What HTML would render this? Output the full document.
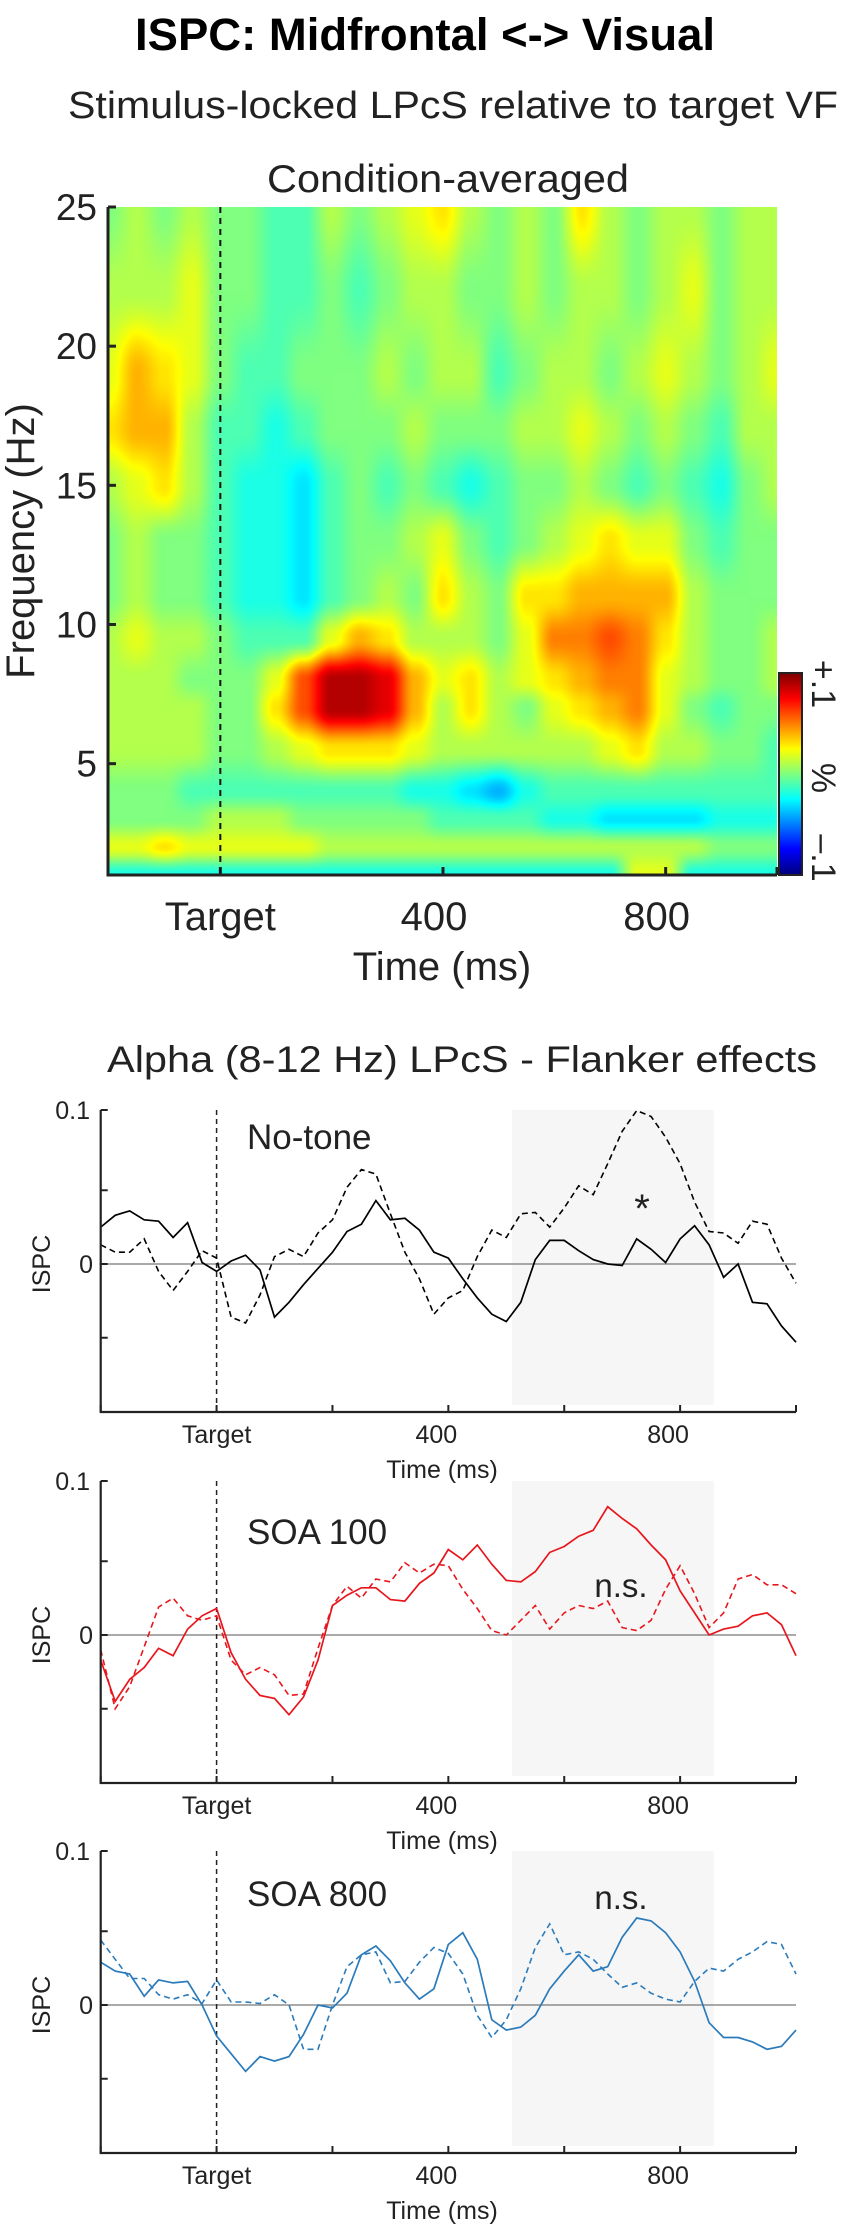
<!DOCTYPE html>
<html><head><meta charset="utf-8">
<style>
html,body{margin:0;padding:0;background:#fff;}
#wrap{position:relative;width:851px;height:2232px;overflow:hidden;background:#fff;}
#heat{position:absolute;left:109px;top:207px;}
#cbar{position:absolute;left:779px;top:673px;}
svg{position:absolute;left:0;top:0;}
text{font-family:"Liberation Sans",sans-serif;fill:#222;}
</style></head>
<body>
<div id="wrap">
<canvas id="heat" width="668" height="668"></canvas>
<canvas id="cbar" width="23" height="202"></canvas>
<svg id="svg" width="851" height="2232" xmlns="http://www.w3.org/2000/svg">
<text x="425" y="50" text-anchor="middle" font-size="45" font-weight="bold" textLength="580" lengthAdjust="spacingAndGlyphs" style="fill:#000">ISPC: Midfrontal &lt;-&gt; Visual</text>
<text x="453" y="118" text-anchor="middle" font-size="38" textLength="770" lengthAdjust="spacingAndGlyphs">Stimulus-locked LPcS relative to target VF</text>
<text x="448" y="192" text-anchor="middle" font-size="39" textLength="362" lengthAdjust="spacingAndGlyphs">Condition-averaged</text>
<text x="462" y="1072" text-anchor="middle" font-size="37" textLength="710" lengthAdjust="spacingAndGlyphs">Alpha (8-12 Hz) LPcS - Flanker effects</text>
</svg>
</div>
<script>
// ---------- Heatmap data (values in units of 0.01 ISPC change, colour range ±10) ----------
const heatTimes = [-200,-150,-100,-50,0,50,100,150,200,250,300,350,400,450,500,550,600,650,700,750,800,850,900,950,1000];
const heatFreqs = [25,22,19,17,15,13,11,9.5,8,7,5.5,4,3,2,1];
const heatValues = [
[0,1,0,1,0,0,-1,-1,1,0,1,2,3,1,0,1,0,3,1,0,1,1,0,1,1],
[1,1,1,2,0,0,-1,-1,0,-1,0,1,1,0,0,1,0,1,1,0,1,2,0,1,1],
[2,4,3,2,0,-1,-1,0,0,0,1,0,1,1,-1,0,1,1,0,1,2,1,0,1,2],
[3,4,4,1,-1,-1,-2,-1,0,0,0,1,0,0,0,1,1,2,1,0,1,0,-1,1,1],
[1,2,3,1,-1,-2,-2,-3,-1,0,-1,0,-1,-2,-1,0,0,1,0,-1,0,-1,-2,0,1],
[0,1,0,0,-1,-2,-2,-3,-1,0,0,1,2,0,-1,0,1,2,3,2,2,0,-1,0,0],
[0,1,0,0,-1,-2,-2,-3,-1,0,1,0,3,1,0,3,3,4,4,4,4,1,0,0,0],
[1,2,1,1,0,-1,-1,-1,2,4,3,1,1,1,0,2,5,5,6,5,3,1,0,0,1],
[1,1,1,0,0,0,2,6,9,9,8,4,2,3,1,2,3,4,5,5,2,1,0,0,1],
[1,1,1,1,0,0,3,6,9,9,8,4,1,3,1,0,2,3,4,5,2,0,-1,0,0],
[1,1,1,1,0,0,1,2,3,3,3,2,1,1,1,1,1,1,2,3,1,1,0,0,-1],
[0,0,0,-1,-1,-1,-1,-1,-1,-1,-1,-2,-2,-3,-4,-2,-1,-1,-1,-1,-1,-1,-1,-1,-1],
[0,0,0,0,1,1,1,0,0,0,0,0,-1,-1,-1,-1,-2,-2,-3,-3,-3,-3,-2,-2,-2],
[2,2,3,2,2,2,2,2,1,1,1,1,1,1,1,1,1,1,1,1,1,1,0,0,0],
[-2,-2,-2,-2,-2,-2,-2,-2,-2,-2,-2,-2,-2,-2,-2,-2,-2,-2,-2,2,2,-2,-2,-2,-2]
];
const heatYTicks = [25,20,15,10,5];
const heatXTicks = [0,400,800];
const heatXTickLabels = ["Target","400","800"];

// ---------- Line data (time every 25 ms from -200 to 1000) ----------
const lineTimes = [];
for (let t=-200;t<=1000;t+=25) lineTimes.push(t);
const noToneSolid = [0.025,0.033,0.036,0.030,0.029,0.018,0.028,0.001,-0.005,0.002,0.006,-0.004,-0.036,-0.026,-0.014,-0.003,0.008,0.022,0.027,0.043,0.030,0.031,0.023,0.008,0.004,-0.010,-0.023,-0.034,-0.039,-0.026,0.003,0.016,0.016,0.009,0.003,0.000,-0.001,0.017,0.010,0.001,0.017,0.026,0.013,-0.009,0.000,-0.026,-0.027,-0.042,-0.053];
const noToneDashed = [0.013,0.008,0.008,0.017,-0.005,-0.018,-0.005,0.009,0.004,-0.036,-0.040,-0.021,0.005,0.010,0.005,0.021,0.030,0.052,0.064,0.061,0.034,0.008,-0.010,-0.034,-0.023,-0.018,0.005,0.023,0.018,0.034,0.035,0.025,0.038,0.053,0.047,0.068,0.090,0.104,0.100,0.086,0.068,0.042,0.022,0.021,0.014,0.029,0.027,0.004,-0.013];
const soa100Solid = [-0.017,-0.045,-0.030,-0.022,-0.009,-0.014,0.004,0.013,0.018,-0.012,-0.030,-0.041,-0.043,-0.054,-0.042,-0.017,0.020,0.027,0.032,0.032,0.024,0.023,0.035,0.042,0.058,0.051,0.061,0.048,0.037,0.036,0.043,0.056,0.060,0.067,0.071,0.087,0.079,0.072,0.061,0.051,0.030,0.015,0.000,0.004,0.006,0.013,0.015,0.007,-0.014];
const soa100Dashed = [-0.010,-0.050,-0.035,-0.008,0.019,0.025,0.013,0.010,0.013,-0.017,-0.027,-0.022,-0.027,-0.041,-0.040,-0.009,0.020,0.033,0.025,0.038,0.036,0.049,0.042,0.048,0.047,0.031,0.018,0.003,0.000,0.010,0.020,0.004,0.015,0.020,0.018,0.023,0.005,0.003,0.010,0.031,0.047,0.028,0.005,0.015,0.038,0.041,0.034,0.034,0.028];
const soa800Solid = [0.029,0.023,0.021,0.006,0.017,0.015,0.016,0.000,-0.021,-0.033,-0.045,-0.035,-0.038,-0.035,-0.020,0.000,-0.002,0.008,0.034,0.040,0.030,0.015,0.004,0.011,0.041,0.049,0.031,-0.010,-0.017,-0.015,-0.007,0.011,0.023,0.034,0.023,0.026,0.046,0.059,0.057,0.049,0.036,0.016,-0.012,-0.022,-0.022,-0.025,-0.030,-0.028,-0.017];
const soa800Dashed = [0.044,0.031,0.018,0.018,0.007,0.004,0.007,0.001,0.017,0.002,0.002,0.001,0.007,0.000,-0.030,-0.030,0.000,0.026,0.034,0.036,0.015,0.016,0.029,0.039,0.035,0.021,-0.007,-0.022,-0.010,0.011,0.039,0.055,0.034,0.036,0.031,0.021,0.012,0.015,0.008,0.004,0.002,0.016,0.025,0.023,0.031,0.036,0.043,0.041,0.021];
const lineXTicks = [-200,0,200,400,600,800,1000];
const lineXLabels = {0:"Target",400:"400",800:"800"};
const lineYTicks = [0.1,0.05,0,-0.05];
const sigWindow = [510,858];

// ---------- helpers ----------
const NS="http://www.w3.org/2000/svg";
const svg=document.getElementById('svg');
function mk(tag,attrs,parent){const e=document.createElementNS(NS,tag);for(const k in attrs)e.setAttribute(k,attrs[k]);(parent||svg).appendChild(e);return e;}
function jet(v){
  const r=Math.min(Math.max(Math.min(4*v-1.5,-4*v+4.5),0),1);
  const g=Math.min(Math.max(Math.min(4*v-0.5,-4*v+3.5),0),1);
  const b=Math.min(Math.max(Math.min(4*v+0.5,-4*v+2.5),0),1);
  return [r*255,g*255,b*255];
}

// ---------- heatmap ----------
const HX0=109,HX1=777,HY0=207,HY1=875;
const hx=t=>HX0+(t+200)/1200*(HX1-HX0);
const hy=f=>HY1-(f-1)/24*(HY1-HY0);
(function(){
  const c=document.getElementById('heat'),ctx=c.getContext('2d');
  const W=c.width,H=c.height,img=ctx.createImageData(W,H);
  const sm=x=>x*x*(3-2*x);
  for(let py=0;py<H;py++){
    const f=25-(py+0.5)/H*24;
    let r=0;while(r<heatFreqs.length-2&&heatFreqs[r+1]>f)r++;
    let fy=(heatFreqs[r]-f)/(heatFreqs[r]-heatFreqs[r+1]);fy=sm(Math.min(Math.max(fy,0),1));
    for(let px=0;px<W;px++){
      const t=-200+(px+0.5)/W*1200;
      let ci=Math.min(Math.floor((t+200)/50),heatTimes.length-2);
      let fx=sm(((t-heatTimes[ci])/50));
      const a=heatValues[r][ci]*(1-fx)+heatValues[r][ci+1]*fx;
      const b=heatValues[r+1][ci]*(1-fx)+heatValues[r+1][ci+1]*fx;
      const v=a*(1-fy)+b*fy;
      const col=jet(Math.min(Math.max((v+10)/20,0),1));
      const k=(py*W+px)*4;img.data[k]=col[0];img.data[k+1]=col[1];img.data[k+2]=col[2];img.data[k+3]=255;
    }
  }
  ctx.putImageData(img,0,0);
  const cb=document.getElementById('cbar'),cx=cb.getContext('2d');
  for(let y=0;y<cb.height;y++){const col=jet(1-y/(cb.height-1));cx.fillStyle=`rgb(${col[0]|0},${col[1]|0},${col[2]|0})`;cx.fillRect(0,y,cb.width,1);}
})();
const cbf=mk('rect',{x:779,y:673,width:23,height:202,fill:'none',stroke:'#222','stroke-width':2});


[["+.1",684],["%",778],["\u2013.1",858]].forEach(([s,y])=>{
  const t=mk('text',{x:823,y:y,'text-anchor':'middle','dominant-baseline':'central','font-size':34,transform:`rotate(90 823 ${y})`});t.textContent=s;
  
  
});
const hax=mk('path',{d:`M${HX0-1},${HY0} V${HY1} H${HX1}`,fill:'none',stroke:'#222','stroke-width':3});


heatYTicks.forEach(f=>{
  const y=hy(f);
  mk('line',{x1:HX0-1,x2:HX0+7,y1:y,y2:y,stroke:'#222','stroke-width':3});
  const t=mk('text',{x:97,y:y+13,'text-anchor':'end','font-size':37});t.textContent=String(f);
  
  
});
[0,400,800,1000].forEach(tm=>{const x=hx(tm);mk('line',{x1:x,x2:x,y1:HY1,y2:HY1-8,stroke:'#222','stroke-width':3});});
heatXTicks.forEach((tm,i)=>{
  const t=mk('text',{x:hx(tm)-(i?9:0),y:930,'text-anchor':'middle','font-size':40});t.textContent=heatXTickLabels[i];
  
  
});
const hdl=mk('line',{x1:hx(0),x2:hx(0),y1:HY0,y2:HY1,stroke:'#111','stroke-width':2,'stroke-dasharray':'6,5'});


let tt=mk('text',{x:442,y:980,'text-anchor':'middle','font-size':40});tt.textContent='Time (ms)';


tt=mk('text',{x:34,y:541,'text-anchor':'middle','font-size':40,transform:'rotate(-90 34 541)'});tt.textContent='Frequency (Hz)';



// ---------- line panels ----------
const LX0=100.7,LX1=796;
const lx=t=>LX0+(t+200)/1200*(LX1-LX0);
function panel(off,name,label,labelBase,solid,dashed,color,note,noteX,noteY){
  const Y0=1264+off, top=1110+off, bot=1412+off;
  const ly=v=>Y0-v*1475;
  const sh=mk('rect',{x:lx(sigWindow[0]),y:top,width:lx(sigWindow[1])-lx(sigWindow[0]),height:bot-7-top,fill:'#f6f6f6'});
  
  
  const z=mk('line',{x1:LX0,x2:LX1,y1:Y0,y2:Y0,stroke:'#777','stroke-width':1.3});
  
  
  const dl=mk('line',{x1:lx(0),x2:lx(0),y1:top,y2:bot,stroke:'#222','stroke-width':1.5,'stroke-dasharray':'5,4'});
  
  
  const mkPath=arr=>arr.map((v,i)=>(i?'L':'M')+lx(lineTimes[i]).toFixed(1)+','+ly(v).toFixed(1)).join(' ');
  const d=mk('path',{d:mkPath(dashed),fill:'none',stroke:color,'stroke-width':1.6,'stroke-dasharray':'6,4'});
  
  
  const s=mk('path',{d:mkPath(solid),fill:'none',stroke:color,'stroke-width':1.7});
  
  
  const ax=mk('path',{d:`M${LX0},${top} V${bot} H${LX1}`,fill:'none',stroke:'#222','stroke-width':2.2});
  
  
  lineYTicks.forEach(v=>{
    const y=v===0.1?top:ly(v);
    mk('line',{x1:LX0,x2:LX0+7,y1:y,y2:y,stroke:'#222','stroke-width':2});
    if(v===0.1||v===0){const t=mk('text',{x:v===0?93:90,y:y+9,'text-anchor':'end','font-size':25});t.textContent=v===0?'0':'0.1';
      
      }
  });
  lineXTicks.forEach(tm=>{
    const x=lx(tm);mk('line',{x1:x,x2:x,y1:bot,y2:bot-7,stroke:'#222','stroke-width':2});
    if(lineXLabels[tm]!==undefined){const t=mk('text',{x:x-(tm?12:0),y:1443+off,'text-anchor':'middle','font-size':25});t.textContent=lineXLabels[tm];
      
      }
  });
  let t=mk('text',{x:442,y:1478+off,'text-anchor':'middle','font-size':25});t.textContent='Time (ms)';
  
  
  t=mk('text',{x:50,y:Y0,'text-anchor':'middle','font-size':25,transform:`rotate(-90 50 ${Y0})`});t.textContent='ISPC';
  
  
  t=mk('text',{x:247,y:labelBase,'font-size':35});t.textContent=label;
  
  
  t=mk('text',{x:noteX,y:noteY,'text-anchor':'middle','font-size':note==='*'?40:33});t.textContent=note;
  
  
}
panel(0,'no-tone','No-tone',1149,noToneSolid,noToneDashed,'#000','*',642,1222);
panel(371,'soa-100','SOA 100',1544,soa100Solid,soa100Dashed,'#e8161c','n.s.',621,1597);
panel(741,'soa-800','SOA 800',1906,soa800Solid,soa800Dashed,'#2b7bbb','n.s.',621,1909);
</script>
</body></html>
